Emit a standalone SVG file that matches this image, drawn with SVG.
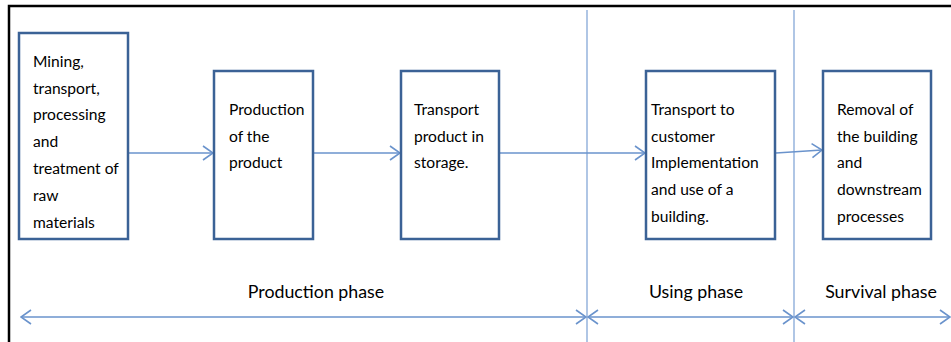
<svg xmlns="http://www.w3.org/2000/svg" width="951" height="342" viewBox="0 0 951 342">
  <defs>
    <style>
      .frame { fill: none; stroke: #000; stroke-width: 2.5; }
      .box { fill: #fff; stroke: #3b6296; stroke-width: 2.5; }
      .flow { fill: none; stroke: #6a93cc; stroke-width: 1.6; }
      .divider { fill: none; stroke: #7ba0d4; stroke-width: 1.2; }
      .label { font-family: Lato, "Liberation Sans", sans-serif; font-size: 15.6px; fill: #000; }
      .phase { font-family: Lato, "Liberation Sans", sans-serif; font-size: 17.8px; fill: #000; text-anchor: middle; }
    </style>
    <marker id="head" viewBox="0 0 12 16" refX="11" refY="8" markerWidth="12" markerHeight="16" markerUnits="userSpaceOnUse" orient="auto-start-reverse">
      <path d="M1,1 L11,8 L1,15" fill="none" stroke="#6a93cc" stroke-width="1.6"/>
    </marker>
  </defs>

  <!-- page frame (left and top edges) -->
  <path class="frame" d="M9,342 V6 H951"/>

  <!-- phase dividers and connectors -->
  <g id="connectors">
    <line class="divider" x1="587" y1="10" x2="587" y2="342"/>
    <line class="divider" x1="794" y1="10" x2="794" y2="342"/>
    <line class="flow" x1="129" y1="153" x2="213" y2="153" marker-end="url(#head)"/>
    <line class="flow" x1="314" y1="153" x2="400" y2="153" marker-end="url(#head)"/>
    <line class="flow" x1="500" y1="153" x2="645" y2="153" marker-end="url(#head)"/>
    <line class="flow" x1="776" y1="153" x2="822" y2="150" marker-end="url(#head)"/>
    <line class="flow" x1="21" y1="317" x2="586" y2="317" marker-start="url(#head)" marker-end="url(#head)"/>
    <line class="flow" x1="588" y1="317" x2="793" y2="317" marker-start="url(#head)" marker-end="url(#head)"/>
    <line class="flow" x1="795" y1="317" x2="950" y2="317" marker-start="url(#head)" marker-end="url(#head)"/>
  </g>

  <g id="raw-materials">
    <rect class="box" x="19" y="33" width="109" height="206"/>
    <text class="label">
      <tspan x="33" y="67">Mining,</tspan>
      <tspan x="33" y="94">transport,</tspan>
      <tspan x="33" y="120">processing</tspan>
      <tspan x="33" y="147">and</tspan>
      <tspan x="33" y="174">treatment of</tspan>
      <tspan x="33" y="201">raw</tspan>
      <tspan x="33" y="228">materials</tspan>
    </text>
  </g>

  <g id="production">
    <rect class="box" x="214" y="71" width="99" height="168"/>
    <text class="label">
      <tspan x="229" y="115">Production</tspan>
      <tspan x="229" y="142">of the</tspan>
      <tspan x="229" y="168">product</tspan>
    </text>
  </g>

  <g id="storage">
    <rect class="box" x="401" y="71" width="98" height="168"/>
    <text class="label">
      <tspan x="414" y="115">Transport</tspan>
      <tspan x="414" y="142">product in</tspan>
      <tspan x="414" y="168">storage.</tspan>
    </text>
  </g>

  <g id="use">
    <rect class="box" x="646" y="71" width="129" height="168"/>
    <text class="label">
      <tspan x="651" y="115">Transport to</tspan>
      <tspan x="651" y="142">customer</tspan>
      <tspan x="651" y="168">Implementation</tspan>
      <tspan x="651" y="195">and use of a</tspan>
      <tspan x="651" y="222">building.</tspan>
    </text>
  </g>

  <g id="removal">
    <rect class="box" x="823" y="71" width="108" height="168"/>
    <text class="label">
      <tspan x="837" y="115">Removal of</tspan>
      <tspan x="837" y="142">the building</tspan>
      <tspan x="837" y="168">and</tspan>
      <tspan x="837" y="195">downstream</tspan>
      <tspan x="837" y="222">processes</tspan>
    </text>
  </g>

  <g id="phases">
    <text class="phase" x="316" y="298">Production phase</text>
    <text class="phase" x="696" y="298">Using phase</text>
    <text class="phase" x="881" y="298">Survival phase</text>
  </g>
</svg>
